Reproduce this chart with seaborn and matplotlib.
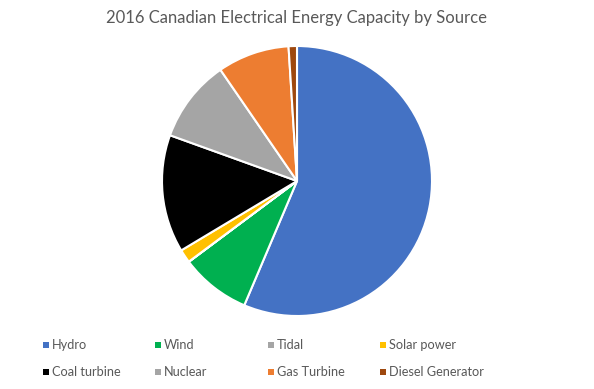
import matplotlib
matplotlib.use("Agg")
import matplotlib.pyplot as plt
import seaborn as sns
from matplotlib.patches import Rectangle

# 2016 capacity shares (percent)
sources = ["Hydro", "Wind", "Tidal", "Solar power",
           "Coal turbine", "Nuclear", "Gas Turbine", "Diesel Generator"]
shares = [56.4, 8.4, 0.02, 1.6, 14.1, 9.9, 8.6, 1.0]
colors = ["#4472C4", "#00B050", "#A5A5A5", "#FFC000",
          "#000000", "#A5A5A5", "#ED7D31", "#9E480E"]

sns.set_theme(style="white")
plt.rcParams['font.family'] = ['Lato', 'DejaVu Sans']

W, H = 594, 389
fig = plt.figure(figsize=(W / 100, H / 100), dpi=100)
fig.patch.set_facecolor("white")

# pie: centre (297, 181) px, radius 135 px
cx, cy, r = 297, 181, 135
ax = fig.add_axes([(cx - r) / W, (H - cy - r) / H, 2 * r / W, 2 * r / H])
ax.pie(shares, colors=colors, startangle=90, counterclock=False,
       wedgeprops=dict(edgecolor="white", linewidth=1.5))
ax.set_xlim(-1, 1)
ax.set_ylim(-1, 1)
ax.set_aspect("equal")
ax.axis("off")

fig.text(297 / W, 1 - 18 / H, "2016 Canadian Electrical Energy Capacity by Source",
         ha="center", va="center", fontsize=12, color="#595959")

# legend: 2 rows x 4 columns
col_x = [43, 155, 268, 380]
row_y = [345, 372]
for i, (lab, col) in enumerate(zip(sources, colors)):
    x = col_x[i % 4]
    y = row_y[i // 4]
    fig.patches.append(Rectangle((x / W, 1 - (y + 3) / H), 6 / W, 6 / H,
                                 transform=fig.transFigure, facecolor=col,
                                 edgecolor="none"))
    fig.text((x + 9) / W, 1 - y / H, lab, ha="left", va="center",
             fontsize=9.2, color="#595959")

fig.savefig("out.png", dpi=100, facecolor="white")
